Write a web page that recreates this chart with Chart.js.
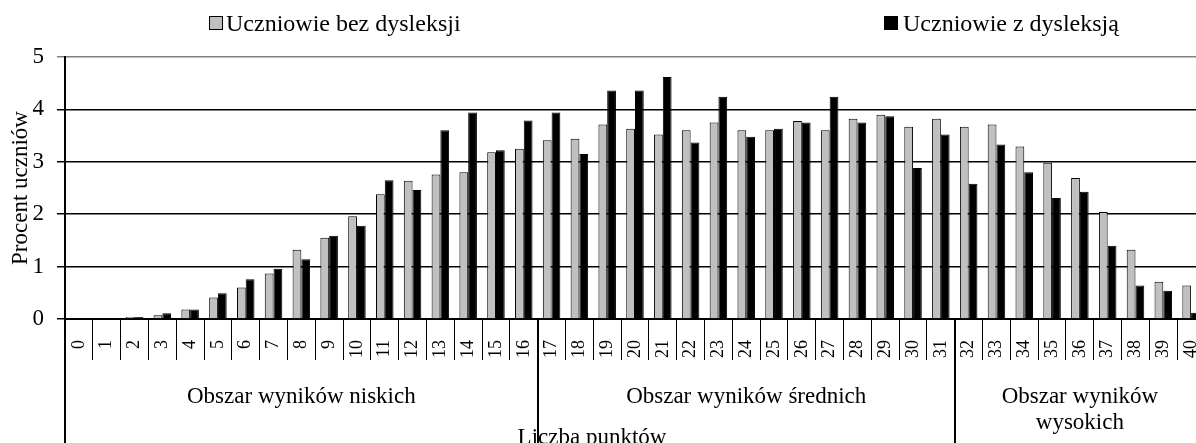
<!DOCTYPE html>
<html lang="pl">
<head>
    <meta charset="UTF-8">
    <title>Procent uczniów</title>
    <script src="https://cdn.jsdelivr.net/npm/chart.js"></script>
    <style>
        html, body {
            margin: 0;
            padding: 0;
            background-color: #fff;
            overflow: hidden;
            width: 1196px;
            height: 443px;
        }

        canvas {
            display: block;
        }
    </style>
</head>
<body>
    <canvas id="scoreChart" width="1205" height="443"></canvas>

    <script>
        // Liczba punktów 0..40
        const points = ['0','1','2','3','4','5','6','7','8','9','10','11','12','13','14','15','16','17','18','19','20',
                        '21','22','23','24','25','26','27','28','29','30','31','32','33','34','35','36','37','38','39','40'];

        // Uczniowie bez dysleksji (%)
        const withoutDyslexia = [0, 0, 0.04, 0.07, 0.18, 0.41, 0.60, 0.87, 1.32, 1.55, 1.96, 2.38, 2.64, 2.76, 2.80,
                                 3.18, 3.25, 3.41, 3.44, 3.71, 3.63, 3.52, 3.60, 3.75, 3.60, 3.60, 3.78, 3.60, 3.82,
                                 3.90, 3.67, 3.82, 3.67, 3.71, 3.29, 2.98, 2.69, 2.04, 1.32, 0.71, 0.64];

        // Uczniowie z dysleksją (%)
        const withDyslexia = [0, 0, 0.04, 0.11, 0.18, 0.49, 0.76, 0.96, 1.14, 1.59, 1.78, 2.65, 2.46, 3.60, 3.94,
                              3.22, 3.79, 3.94, 3.15, 4.36, 4.36, 4.62, 3.37, 4.24, 3.48, 3.63, 3.75, 4.24, 3.75,
                              3.87, 2.88, 3.52, 2.58, 3.33, 2.80, 2.31, 2.43, 1.40, 0.64, 0.54, 0.12];

        // Score areas: first category index of each area (the last one runs to the end)
        const areaNames = [['Obszar wyników niskich'], ['Obszar wyników średnich'], ['Obszar wyników', 'wysokich']];
        const areaStarts = [0, 17, 32];

        const seriesNames = ['Uczniowie bez dysleksji', 'Uczniowie z dysleksją'];
        const yTicks = [0, 1, 2, 3, 4, 5];

        const FONT = "'Liberation Serif', 'Times New Roman', serif";

        // draws legend, axis titles, area labels and separators
        const decorations = {
            id: 'decorations',
            afterDraw(chart) {
                const ctx = chart.ctx;
                const area = chart.chartArea;
                const x = chart.scales.x;
                const bottom = chart.height;

                function boundary(k) {
                    if (k <= 0) return area.left;
                    if (k >= points.length) return area.right;
                    return (x.getPixelForValue(k - 1) + x.getPixelForValue(k)) / 2;
                }

                ctx.save();

                // legend
                ctx.font = '24px ' + FONT;
                ctx.textBaseline = 'alphabetic';
                ctx.textAlign = 'left';
                ctx.lineWidth = 1;
                ctx.strokeStyle = '#000';
                ctx.fillStyle = '#c0c0c0';
                ctx.fillRect(209, 16, 13, 13);
                ctx.strokeRect(209.5, 16.5, 13, 13);
                ctx.fillStyle = '#000';
                ctx.fillText(seriesNames[0], 226, 31);
                ctx.fillRect(884, 16, 14, 14);
                ctx.fillText(seriesNames[1], 903, 31);

                // y axis title
                ctx.font = '23px ' + FONT;
                ctx.save();
                ctx.translate(27, (area.top + area.bottom) / 2);
                ctx.rotate(-Math.PI / 2);
                ctx.textAlign = 'center';
                ctx.fillText('Procent uczniów', 0, 0);
                ctx.restore();

                // area separators (down from the axis to the bottom edge)
                ctx.lineWidth = 2;
                ctx.beginPath();
                ctx.moveTo(area.left, area.top);
                ctx.lineTo(area.left, bottom);
                areaStarts.slice(1).forEach(function (k) {
                    const bx = Math.round(boundary(k));
                    ctx.moveTo(bx, area.bottom);
                    ctx.lineTo(bx, bottom);
                });
                ctx.stroke();

                // area labels
                ctx.textAlign = 'center';
                areaNames.forEach(function (lines, i) {
                    const from = boundary(areaStarts[i]);
                    const to = boundary(i + 1 < areaStarts.length ? areaStarts[i + 1] : points.length);
                    const cx = (from + to) / 2;
                    lines.forEach(function (line, j) {
                        ctx.fillText(line, cx, 403 + j * 26);
                    });
                });

                // x axis title
                ctx.fillText('Liczba punktów', 592, 444);

                ctx.restore();
            }
        };

        const chartCtx = document.getElementById('scoreChart').getContext('2d');
        const scoreChart = new Chart(chartCtx, {
            type: 'bar',
            data: {
                labels: points,
                datasets: [{
                    label: seriesNames[0],
                    data: withoutDyslexia,
                    backgroundColor: '#c0c0c0',
                    borderColor: '#000',
                    borderWidth: 1
                }, {
                    label: seriesNames[1],
                    data: withDyslexia,
                    backgroundColor: '#000',
                    borderColor: '#000',
                    borderWidth: 1
                }]
            },
            options: {
                responsive: false,
                animation: false,
                devicePixelRatio: 1,
                categoryPercentage: 0.63,
                barPercentage: 1,
                layout: {
                    padding: { top: 57, right: 0, left: 0, bottom: 0 }
                },
                plugins: {
                    legend: { display: false },
                    tooltip: { enabled: false }
                },
                scales: {
                    x: {
                        afterFit: function (scale) { scale.height = 124; },
                        grid: {
                            offset: true,
                            drawOnChartArea: false,
                            tickLength: 41,
                            color: '#000',
                            lineWidth: 1
                        },
                        border: { display: true, color: '#000', width: 2 },
                        ticks: {
                            autoSkip: false,
                            minRotation: 90,
                            maxRotation: 90,
                            padding: -20,
                            color: '#000',
                            font: { family: FONT, size: 18 }
                        }
                    },
                    y: {
                        min: 0,
                        max: 5,
                        afterFit: function (scale) { scale.width = 65; },
                        afterBuildTicks: function (scale) {
                            scale.ticks = yTicks.map(function (v) { return { value: v }; });
                        },
                        grid: {
                            tickLength: 8,
                            lineWidth: 1.5,
                            color: function (c) {
                                return c.tick && c.tick.value === 5 ? '#808080' : '#000';
                            }
                        },
                        border: { display: true, color: '#000', width: 2 },
                        ticks: {
                            padding: 13,
                            color: '#000',
                            font: { family: FONT, size: 23 }
                        }
                    }
                }
            },
            plugins: [decorations]
        });
    </script>
</body>
</html>
